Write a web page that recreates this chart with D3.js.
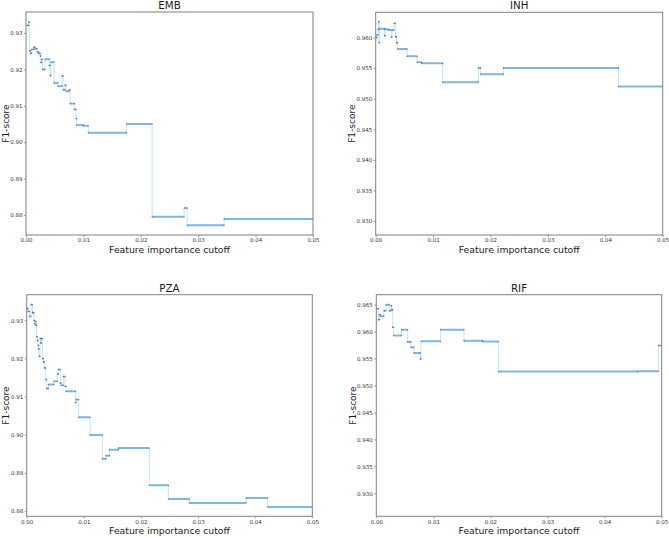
<!DOCTYPE html>
<html><head><meta charset="utf-8">
<script src="https://cdn.jsdelivr.net/npm/d3@7"></script>
<style>body{margin:0;background:#fff}svg{display:block}</style>
</head><body>
<svg id="c" width="669" height="538"></svg>
<script>
const drugs = ["EMB", "INH", "PZA", "RIF"];
const xTicks = [0, 0.01, 0.02, 0.03, 0.04, 0.05];
const xMax = 0.05;

const embCutoff = [0.0002, 0.00045, 0.00058, 0.00078, 0.00099, 0.00135, 0.00157, 0.00192, 0.00222, 0.00247, 0.00256, 0.00273, 0.00284, 0.00331, 0.00404, 0.0042, 0.00433, 0.00488, 0.00555, 0.00628, 0.00646, 0.00679, 0.00697, 0.00752, 0.00768, 0.00841, 0.00871, 0.00883, 0.00998, 0.01085, 0.01752, 0.02198, 0.02755, 0.02807, 0.03451];
const embF1 = [0.9321, 0.9330, 0.9251, 0.9244, 0.9255, 0.9261, 0.9257, 0.9248, 0.9244, 0.9237, 0.9219, 0.9228, 0.9200, 0.9228, 0.9211, 0.9183, 0.9220, 0.9163, 0.9154, 0.9182, 0.9144, 0.9157, 0.9140, 0.9144, 0.9106, 0.9090, 0.9065, 0.9047, 0.9045, 0.9026, 0.9050, 0.8795, 0.8819, 0.8772, 0.8789];

const inhCutoff = [0.0001, 0.0002, 0.0004, 0.00052, 0.00058, 0.00063, 0.00155, 0.00165, 0.0022, 0.0027, 0.00285, 0.0032, 0.00343, 0.00362, 0.00383, 0.00546, 0.0072, 0.00801, 0.01167, 0.01789, 0.01829, 0.02224, 0.04228];
const inhF1 = [0.96000, 0.96043, 0.96136, 0.96261, 0.95918, 0.96147, 0.96033, 0.96136, 0.96125, 0.96011, 0.96125, 0.96234, 0.96016, 0.95918, 0.95815, 0.95696, 0.95598, 0.95582, 0.95272, 0.95505, 0.95402, 0.95505, 0.95201];

const pzaCutoff = [0.00012, 0.00023, 0.00047, 0.00076, 0.00099, 0.00111, 0.00128, 0.0014, 0.00158, 0.00163, 0.00175, 0.00187, 0.00198, 0.0021, 0.00216, 0.00233, 0.00245, 0.00257, 0.00274, 0.00292, 0.00309, 0.00333, 0.0035, 0.00379, 0.00478, 0.00537, 0.00554, 0.00589, 0.00601, 0.00642, 0.00671, 0.00688, 0.00852, 0.00864, 0.0091, 0.01109, 0.01324, 0.01389, 0.01447, 0.01604, 0.02147, 0.0248, 0.02847, 0.03839, 0.04218];
const pzaF1 = [0.93306, 0.93236, 0.93105, 0.93411, 0.9321, 0.93192, 0.92991, 0.92904, 0.92974, 0.92869, 0.92563, 0.92467, 0.92344, 0.92248, 0.92056, 0.92519, 0.92406, 0.92519, 0.91995, 0.91907, 0.9175, 0.91444, 0.91208, 0.91313, 0.914, 0.91593, 0.91706, 0.91357, 0.91295, 0.91523, 0.91269, 0.91138, 0.90841, 0.9092, 0.90456, 0.89993, 0.89372, 0.89451, 0.89608, 0.89652, 0.88673, 0.88315, 0.8821, 0.88339, 0.88105];

const rifCutoff = [0.00006, 0.00035, 0.00053, 0.0007, 0.00134, 0.00169, 0.00228, 0.00257, 0.00269, 0.00286, 0.00304, 0.00444, 0.00549, 0.00607, 0.0066, 0.00771, 0.00783, 0.01127, 0.01536, 0.01857, 0.02144, 0.04574, 0.04942];
const rifF1 = [0.96426, 0.96222, 0.96315, 0.96284, 0.96389, 0.965, 0.96389, 0.96481, 0.96407, 0.9608, 0.95926, 0.96037, 0.95809, 0.9571, 0.95605, 0.95494, 0.95821, 0.96037, 0.95833, 0.95815, 0.95259, 0.95265, 0.95741];

const embYTicks = [0.88, 0.89, 0.90, 0.91, 0.92, 0.93];
const inhYTicks = [0.930, 0.935, 0.940, 0.945, 0.950, 0.955, 0.960];
const pzaYTicks = [0.88, 0.89, 0.90, 0.91, 0.92, 0.93];
const rifYTicks = [0.930, 0.935, 0.940, 0.945, 0.950, 0.955, 0.960, 0.965];

const embYRange = [0.87449, 0.93578];
const inhYRange = [0.92771, 0.96415];
const pzaYRange = [0.87861, 0.93670];
const rifYRange = [0.92574, 0.96685];

const panels = [
  {name: drugs[0], cut: embCutoff, f1: embF1, yTicks: embYTicks, yDom: embYRange, fmt: ".2f", box: [26, 12, 313, 235], lab: 17.3},
  {name: drugs[1], cut: inhCutoff, f1: inhF1, yTicks: inhYTicks, yDom: inhYRange, fmt: ".3f", box: [375.7, 12.3, 662.7, 235], lab: 20.5},
  {name: drugs[2], cut: pzaCutoff, f1: pzaF1, yTicks: pzaYTicks, yDom: pzaYRange, fmt: ".2f", box: [26.7, 294.7, 312.3, 516.3], lab: 17.3},
  {name: drugs[3], cut: rifCutoff, f1: rifF1, yTicks: rifYTicks, yDom: rifYRange, fmt: ".3f", box: [376.3, 294.7, 661.7, 516.3], lab: 20.5}
];

const svg = d3.select("#c");
svg.append("rect").attr("width", 669).attr("height", 538).attr("fill", "#fff");
const FONT = "DejaVu Sans, sans-serif";
const spine = "#808080";

panels.forEach((p, pi) => {
  const [L, T, R, B] = p.box;
  const x = d3.scaleLinear().domain([0, xMax]).range([L, R]);
  const y = d3.scaleLinear().domain(p.yDom).range([B, T]);
  const g = svg.append("g");

  const cid = "clip" + pi;
  svg.append("clipPath").attr("id", cid).append("rect")
    .attr("x", L).attr("y", T).attr("width", R - L).attr("height", B - T);

  const pts = p.cut.map((c, i) => [c, p.f1[i]]);
  pts.push([xMax, p.f1[p.f1.length - 1]]);
  const segs = p.cut.map((c, i) => ({x0: c, x1: i + 1 < p.cut.length ? p.cut[i + 1] : xMax, v: p.f1[i]}));

  const dg = g.append("g").attr("clip-path", `url(#${cid})`);
  const line = d3.line().x(d => x(d[0])).y(d => y(d[1])).curve(d3.curveStepAfter);
  dg.append("path").attr("d", line(pts)).attr("fill", "none")
    .attr("stroke", "#add9ee").attr("stroke-width", 0.7);
  dg.selectAll("line.seg").data(segs).join("line").attr("class", "seg")
    .attr("x1", d => x(d.x0)).attr("x2", d => x(d.x1))
    .attr("y1", d => y(d.v)).attr("y2", d => y(d.v))
    .attr("stroke", "#7db9de").attr("stroke-width", 2);
  const dots = [];
  segs.forEach(s => { dots.push([s.x0, s.v]); dots.push([s.x1, s.v]); });
  dg.selectAll("circle").data(dots).join("circle")
    .attr("cx", d => x(d[0])).attr("cy", d => y(d[1])).attr("r", 0.6)
    .attr("fill", "#4d5f8e");

  // axes
  const xa = g.append("g").attr("transform", `translate(0,${B})`)
    .call(d3.axisBottom(x).tickValues(xTicks).tickSize(2).tickPadding(1.5).tickFormat(d3.format(".2f")));
  const ya = g.append("g").attr("transform", `translate(${L},0)`)
    .call(d3.axisLeft(y).tickValues(p.yTicks).tickSize(2).tickPadding(1.5).tickFormat(d3.format(p.fmt)));
  [xa, ya].forEach(a => {
    a.select(".domain").remove();
    a.selectAll("line").attr("stroke", spine).attr("stroke-width", 0.8);
    a.selectAll("text").attr("font-family", FONT).attr("font-size", 5.5).attr("fill", "#333");
  });

  g.append("rect").attr("x", L).attr("y", T).attr("width", R - L).attr("height", B - T)
    .attr("fill", "none").attr("stroke", spine).attr("stroke-width", 1);

  g.append("text").attr("x", (L + R) / 2).attr("y", T - 3)
    .attr("text-anchor", "middle").attr("font-family", FONT).attr("font-size", 10.3).attr("fill", "#1a1a1a")
    .text(p.name);
  g.append("text").attr("x", (L + R) / 2).attr("y", B + 17.5)
    .attr("text-anchor", "middle").attr("font-family", FONT).attr("font-size", 9.3).attr("fill", "#1a1a1a")
    .text("Feature importance cutoff");
  g.append("text").attr("transform", `translate(${L - p.lab},${(T + B) / 2}) rotate(-90)`)
    .attr("text-anchor", "middle").attr("font-family", FONT).attr("font-size", 9).attr("fill", "#1a1a1a")
    .text("F1-score");
});
</script>
</body></html>
